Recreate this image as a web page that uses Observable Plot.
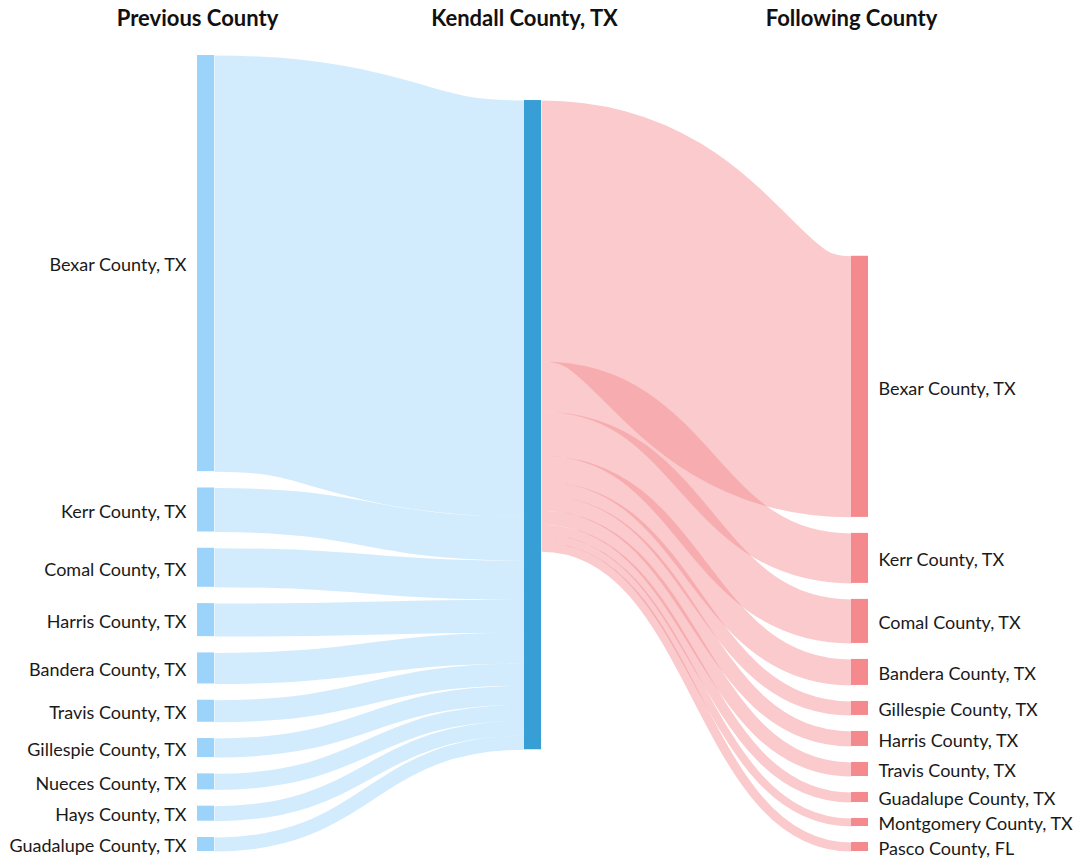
<!DOCTYPE html>
<html>
<head>
<meta charset="utf-8">
<script src="https://cdn.jsdelivr.net/npm/d3@7"></script>
<script src="https://cdn.jsdelivr.net/npm/@observablehq/plot@0.6"></script>
<style>
  html, body { margin: 0; padding: 0; background: #fff; }
  #chart svg { display: block; }
</style>
</head>
<body>
<div id="chart"></div>
<script>
// ---- Data ----
const columnTitles = ["Previous County", "Kendall County, TX", "Following County"];
const centerName = "Kendall County, TX";

const previousCounties = [
  "Bexar County, TX", "Kerr County, TX", "Comal County, TX", "Harris County, TX",
  "Bandera County, TX", "Travis County, TX", "Gillespie County, TX", "Nueces County, TX",
  "Hays County, TX", "Guadalupe County, TX"
];
const previousValues = [416, 44, 39, 33, 31, 22, 19, 16, 15, 14];

const followingCounties = [
  "Bexar County, TX", "Kerr County, TX", "Comal County, TX", "Bandera County, TX",
  "Gillespie County, TX", "Harris County, TX", "Travis County, TX", "Guadalupe County, TX",
  "Montgomery County, TX", "Pasco County, FL"
];
const followingValues = [261, 50, 44, 26, 14, 15, 14, 10, 8, 9];

// ---- Styling / layout parameters ----
const W = 1077, H = 861;
const marginTop = 55, marginBottom = 10, marginLeft = 197, marginRight = 226;
const leftPadding = 16.3, rightPadding = 16;
const nodeWidth = 17 / ((W - marginLeft - marginRight) / 2); // in column units
const middleTopOffset = 45; // where the middle node starts (value units)
const colLeft = "#9bd3fb", colMid = "#389fd6", colRight = "#f4898e";

// ---- Layout ----
const sumIn = d3.sum(previousValues);
const sumOut = d3.sum(followingValues);
const leftSpan = sumIn + leftPadding * (previousValues.length - 1);
const rightSpan = sumOut + rightPadding * (followingValues.length - 1);
const domainMax = Math.max(leftSpan, rightSpan);
const k = (H - marginTop - marginBottom) / domainMax; // px per unit

let acc = 0;
const leftNodes = previousCounties.map((name, i) => {
  const n = {name, col: 0, y0: acc, y1: acc + previousValues[i], v: previousValues[i]};
  acc += previousValues[i] + leftPadding;
  return n;
});
acc = domainMax - rightSpan;
const rightNodes = followingCounties.map((name, i) => {
  const n = {name, col: 2, y0: acc, y1: acc + followingValues[i], v: followingValues[i]};
  acc += followingValues[i] + rightPadding;
  return n;
});
const midNode = {name: centerName, col: 1, y0: middleTopOffset, y1: middleTopOffset + Math.max(sumIn, sumOut)};

let cin = midNode.y0;
const leftLinks = leftNodes.map(n => {
  const l = {x1: n.col + nodeWidth, y1: (n.y0 + n.y1) / 2, x2: 1, y2: cin + n.v / 2, w: n.v * k};
  cin += n.v;
  return l;
});
let cout = midNode.y0;
const rightLinks = rightNodes.map(n => {
  const l = {x1: 1 + nodeWidth, y1: cout + n.v / 2, x2: 2, y2: (n.y0 + n.y1) / 2, w: n.v * k};
  cout += n.v;
  return l;
});

const chart = Plot.plot({
  width: W,
  height: H,
  marginTop, marginBottom, marginLeft, marginRight,
  x: {domain: [0, 2], axis: null},
  y: {domain: [0, domainMax], reverse: true, axis: null},
  style: {fontFamily: "Lato, 'Open Sans', sans-serif", fontSize: "18px", color: "#1a1a1a", background: "#fff"},
  marks: [
    Plot.link(leftLinks, {
      x1: "x1", y1: "y1", x2: "x2", y2: "y2", curve: "bump-x",
      stroke: colLeft, strokeOpacity: 0.45, strokeWidth: d => d.w
    }),
    Plot.link(rightLinks, {
      x1: "x1", y1: "y1", x2: "x2", y2: "y2", curve: "bump-x",
      stroke: colRight, strokeOpacity: 0.45, strokeWidth: d => d.w
    }),
    Plot.rect(leftNodes, {x1: d => d.col, x2: d => d.col + nodeWidth, y1: "y0", y2: "y1", fill: colLeft}),
    Plot.rect([midNode], {x1: d => d.col, x2: d => d.col + nodeWidth, y1: "y0", y2: "y1", fill: colMid}),
    Plot.rect(rightNodes, {x1: d => d.col, x2: d => d.col + nodeWidth, y1: "y0", y2: "y1", fill: colRight}),
    Plot.text(leftNodes, {
      x: d => d.col, y: d => (d.y0 + d.y1) / 2, text: "name",
      textAnchor: "end", dx: -11, dy: 2, fontSize: 18, fill: "#1a1a1a"
    }),
    Plot.text(rightNodes, {
      x: d => d.col + nodeWidth, y: d => (d.y0 + d.y1) / 2, text: "name",
      textAnchor: "start", dx: 10, dy: 2, fontSize: 18, fill: "#1a1a1a"
    }),
    Plot.text(columnTitles, {
      x: (d, i) => i, frameAnchor: "top", dy: -45, text: d => d,
      fontWeight: "bold", fontSize: 22, fill: "#111"
    })
  ]
});
document.getElementById("chart").appendChild(chart);
</script>
</body>
</html>
